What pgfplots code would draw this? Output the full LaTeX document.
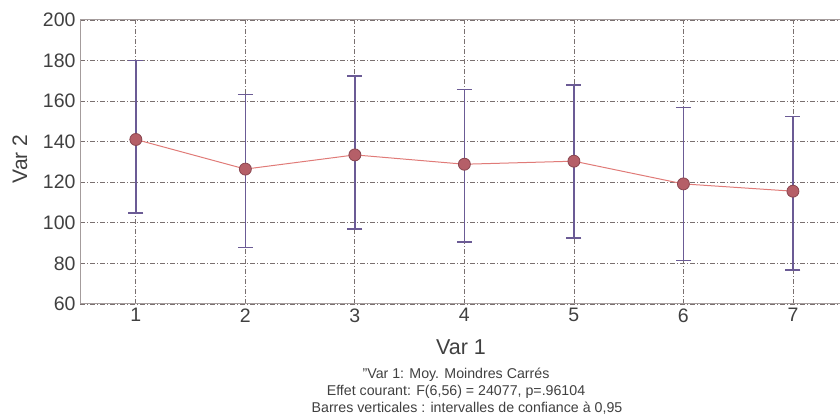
\documentclass[border=0pt]{standalone}
\usepackage{fontspec}
\setmainfont{Liberation Sans}
\usepackage{pgfplots}
\usepackage{pgfplotstable}
\pgfplotsset{compat=1.18}

\definecolor{axisgray}{HTML}{A49C9C}
\definecolor{gridgray}{HTML}{7A7070}
\definecolor{errpurple}{HTML}{6B5B95}
\definecolor{meanline}{HTML}{E07B78}
\definecolor{markfill}{HTML}{B55F68}
\definecolor{markdraw}{HTML}{8A4650}
\definecolor{txt}{HTML}{404040}

% least-squares means of Var 2 with 95% confidence half-widths
\pgfplotstableread{
x  y      ep    em
1  141.1  38.9  36.3
2  126.5  36.9  38.5
3  133.5  38.9  36.5
4  128.9  37.0  38.4
5  130.4  37.6  37.8
6  119.2  37.8  37.8
7  115.6  36.8  38.8
}\means

\begin{document}
\begin{tikzpicture}
\useasboundingbox (0pt,0pt) rectangle (840pt,417pt);
\begin{axis}[
  at={(80pt,113pt)}, anchor=south west,
  scale only axis, width=760pt, height=284pt,
  xmin=0.49, xmax=7.43, ymin=60, ymax=200,
  axis x line*=box, axis y line*=left,
  axis line style={draw=axisgray, line width=1pt},
  xtick={1,...,7}, ytick={60,80,...,200},
  x tick label style={font=\fontsize{19.5}{19.5}\selectfont, text=txt, yshift=-1pt},
  y tick label style={font=\fontsize{19.5}{19.5}\selectfont, text=txt, xshift=-1pt},
  /pgf/number format/assume math mode=true,
  xtick pos=bottom, ytick pos=left,
  tick align=inside,
  major tick length=4pt,
  x tick style={draw=gridgray, line width=0.8pt},
  y tick style={draw=none},
  grid=major,
  major grid style={draw=gridgray, line width=0.8pt,
    dash pattern=on 5pt off 2pt on 1pt off 2pt},
  clip=false,
]
% confidence intervals
\addplot[draw=none, mark=none,
  error bars/.cd, y dir=both, y explicit,
  error bar style={draw=errpurple, line width=1.3pt},
  error mark options={rotate=90, mark size=7.5pt, draw=errpurple, line width=1.3pt}]
  table[x=x, y=y, y error plus=ep, y error minus=em] {\means};
% means
\addplot[meanline, line width=1pt, mark=*,
  mark options={fill=markfill, draw=markdraw, line width=0.8pt},
  mark size=6pt]
  table[x=x, y=y] {\means};
\end{axis}
\node[rotate=90, text=txt, font=\fontsize{21}{21}\selectfont] at (20pt,258pt) {Var 2};
\node[text=txt, font=\fontsize{21.5}{21.5}\selectfont] at (461pt,70pt) {Var 1};
\node[text=txt, font=\fontsize{14.2}{14.2}\selectfont] at (456pt,42pt) {''Var 1: Moy. Moindres Carrés};
\node[text=txt, font=\fontsize{14.2}{14.2}\selectfont] at (456pt,25pt) {Effet courant: F(6,56) = 24077, p=.96104};
\node[text=txt, font=\fontsize{14.2}{14.2}\selectfont] at (467pt,9pt) {Barres verticales : intervalles de confiance à 0,95};
\end{tikzpicture}
\end{document}
